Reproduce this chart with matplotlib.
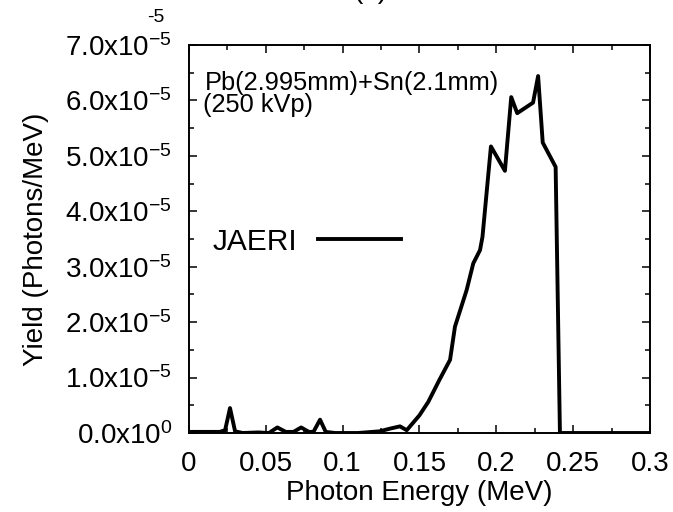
import matplotlib
matplotlib.use('Agg')
import matplotlib.pyplot as plt
from matplotlib.ticker import MultipleLocator, FuncFormatter

# spectrum (MeV, photons/MeV)
energy = [0.0, 0.01, 0.02, 0.0235, 0.0267, 0.030, 0.035, 0.045, 0.052, 0.0575,
          0.063, 0.068, 0.073, 0.078, 0.081, 0.0853, 0.089, 0.095, 0.11, 0.124,
          0.131, 0.1373, 0.1417, 0.150, 0.1557, 0.163, 0.1699, 0.1731, 0.1807, 0.185,
          0.1894, 0.191, 0.1965, 0.2056, 0.2097, 0.2136, 0.2239, 0.2272, 0.2302, 0.2386,
          0.2414, 0.25, 0.3]
yield_e5 = [0.02, 0.02, 0.02, 0.05, 0.45, 0.03, 0.0, 0.01, 0.0, 0.10,
            0.02, 0.02, 0.10, 0.02, 0.02, 0.24, 0.02, 0.0, 0.0, 0.03,
            0.08, 0.12, 0.05, 0.32, 0.56, 0.96, 1.32, 1.92, 2.58, 3.06,
            3.30, 3.54, 5.17, 4.73, 6.06, 5.77, 5.96, 6.44, 5.24, 4.80,
            0.0, 0.0, 0.0]
yields = [v * 1e-5 for v in yield_e5]

series_label = 'JAERI'
note_lines = ['Pb(2.995mm)+Sn(2.1mm)', '(250 kVp)']

plt.rcParams['font.family'] = ['Liberation Sans', 'DejaVu Sans']
plt.rcParams['mathtext.fontset'] = 'custom'
plt.rcParams['mathtext.rm'] = 'Liberation Sans'
plt.rcParams['mathtext.it'] = 'Liberation Sans:italic'
plt.rcParams['mathtext.bf'] = 'Liberation Sans:bold'

fig = plt.figure(figsize=(6.73, 5.12), dpi=100)
ax = fig.add_axes([0.2808, 0.1543, 0.685, 0.7578])

ax.plot(energy, yields, color='black', lw=2.8, label=series_label)

ax.set_xlim(0, 0.3)
ax.set_ylim(0, 7e-5)

ax.xaxis.set_major_locator(MultipleLocator(0.05))
ax.xaxis.set_minor_locator(MultipleLocator(0.025))
ax.yaxis.set_major_locator(MultipleLocator(1e-5))
ax.yaxis.set_minor_locator(MultipleLocator(0.5e-5))


def fmt_y(v, pos):
    if abs(v) < 1e-12:
        return '0.0x10$^{0}$'
    return '%.1fx10$^{-5}$' % (v / 1e-5)


def fmt_x(v, pos):
    return '%g' % round(v, 3)


ax.yaxis.set_major_formatter(FuncFormatter(fmt_y))
ax.xaxis.set_major_formatter(FuncFormatter(fmt_x))

ax.tick_params(which='both', direction='in', top=True, right=True, width=1.1)
ax.tick_params(which='major', length=6, labelsize=20)
ax.tick_params(which='minor', length=3.5)
ax.tick_params(axis='y', pad=12)
ax.tick_params(axis='x', pad=13)
for s in ax.spines.values():
    s.set_linewidth(1.4)

ax.set_xlabel('Photon Energy (MeV)', fontsize=20, labelpad=2)
ax.set_ylabel('Yield (Photons/MeV)', fontsize=20, labelpad=12)

ax.text(0.035, 0.885, note_lines[0], transform=ax.transAxes, fontsize=18.3, va='baseline')
ax.text(0.031, 0.828, note_lines[1], transform=ax.transAxes, fontsize=18.3, va='baseline')

ax.legend(loc='center left', bbox_to_anchor=(0.052, 0.493), frameon=False,
          markerfirst=False, handlelength=2.8, handletextpad=0.67,
          borderpad=0, borderaxespad=0, fontsize=21.5)

# bits of the neighbouring panel that got cropped into the picture
fig.text(370 / 673, 1 + 9 / 512, '(a)', fontsize=20, ha='center', va='center')
fig.text(156 / 673, 1 - 18 / 512, '-5', fontsize=14, ha='center', va='center')

fig.savefig('out.png', dpi=100)
